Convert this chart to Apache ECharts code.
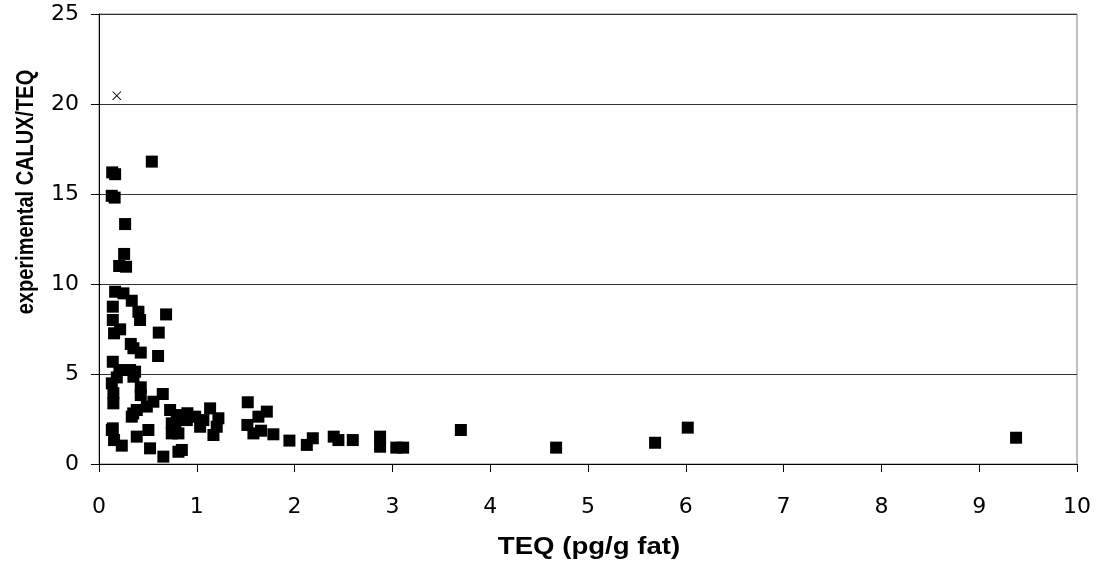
<!DOCTYPE html>
<html>
<head>
<meta charset="utf-8">
<script src="https://cdn.jsdelivr.net/npm/echarts@6/dist/echarts.min.js"></script>
<style>
html,body{margin:0;padding:0;background:#fff;}
#c{width:1103px;height:572px;}
</style>
</head>
<body>
<div id="c"></div>
<script>
// TEQ (pg/g fat) values of the samples
const teq = [
  0.54, 0.135, 0.165, 0.13, 0.16, 0.267, 0.257, 0.206, 0.277,
  0.165, 0.25, 0.335, 0.141, 0.403, 0.686, 0.42, 0.141, 0.216, 0.154, 0.611,
  0.325, 0.352, 0.427, 0.604, 0.141, 0.209, 0.318, 0.369, 0.352, 0.182,
  0.131, 0.147, 0.147, 0.427, 0.427, 0.652, 0.556, 0.489, 0.386, 0.335,
  0.727, 0.795, 0.904, 0.983, 1.136, 1.221, 1.521, 1.716, 1.63, 1.517,
  1.579, 1.657, 1.783, 1.947, 0.131, 0.154, 0.233, 0.386, 0.505, 0.522,
  0.658, 0.812, 0.744, 0.812, 1.034, 1.17, 1.204, 0.898, 1.067, 0.847,
  0.78, 0.744, 0.35, 0.141,
  2.125, 2.186, 2.40, 2.448, 2.595, 2.874, 2.874, 3.04, 3.11, 3.70,
  4.674, 5.686, 6.02, 9.377
];
// experimental CALUX/TEQ ratio of the samples
const ratio = [
  16.8, 16.2, 16.1, 14.9, 14.8, 13.33, 11.67, 11.0, 10.96,
  9.57, 9.48, 9.07, 8.74, 8.46, 8.31, 8.0, 8.0, 7.48, 7.26, 7.3,
  6.67, 6.43, 6.19, 6.0, 5.68, 5.22, 5.22, 5.13, 4.85, 4.81,
  4.48, 3.93, 3.37, 4.26, 3.83, 3.89, 3.46, 3.19, 3.0, 2.63,
  3.0, 2.72, 2.82, 2.63, 3.09, 2.54, 3.43, 2.91, 2.63, 2.17,
  1.70, 1.85, 1.65, 1.30, 1.89, 1.33, 1.02, 1.52, 1.89, 0.87,
  0.41, 0.68, 2.26, 1.70, 2.07, 1.61, 2.07, 2.44, 2.44, 0.78,
  2.07, 1.70, 2.81, 1.98,
  1.06, 1.43, 1.52, 1.33, 1.33, 1.52, 0.96, 0.91, 0.91, 1.89,
  0.91, 1.18, 2.02, 1.46
];
// outlier sample (cross marker)
const outlierTeq = [0.182];
const outlierRatio = [20.46];

const xTicks = [0, 10, 1];
const yTicks = [0, 25, 5];

const xTitle = 'TEQ (pg/g fat)';
const yTitle = 'experimental CALUX/TEQ';

const squares = teq.map((v, i) => [v, ratio[i]]);
const crosses = outlierTeq.map((v, i) => [v, outlierRatio[i]]);

const chart = echarts.init(document.getElementById('c'), null, {renderer: 'canvas'});
const tickFont = {fontFamily: 'DejaVu Sans', fontSize: 22, color: '#000'};

chart.setOption({
  animation: false,
  backgroundColor: '#fff',
  grid: {
    left: 99, right: 26, top: 14, bottom: 108,
    show: true, borderColor: '#808080', borderWidth: 1, backgroundColor: 'transparent'
  },
  xAxis: {
    type: 'value', min: xTicks[0], max: xTicks[1], interval: xTicks[2],
    axisLine: {show: true, onZero: false, lineStyle: {color: '#000', width: 1}},
    axisTick: {show: true, inside: false, length: 8, lineStyle: {color: '#000'}},
    axisLabel: Object.assign({margin: 32}, tickFont),
    splitLine: {show: false}
  },
  yAxis: {
    type: 'value', min: yTicks[0], max: yTicks[1], interval: yTicks[2],
    axisLine: {show: true, onZero: false, lineStyle: {color: '#000', width: 1}},
    axisTick: {show: true, inside: false, length: 8, lineStyle: {color: '#000'}},
    axisLabel: Object.assign({margin: 20}, tickFont),
    splitLine: {show: true, lineStyle: {color: '#333', width: 1}}
  },
  graphic: [
    {
      type: 'text', x: 589, y: 548, scaleX: 1.2, z: 10,
      style: {text: xTitle, font: 'bold 23px "Liberation Sans", Arial, sans-serif',
              fill: '#000', textAlign: 'center', textVerticalAlign: 'middle'}
    },
    {
      type: 'text', x: 26, y: 192, rotation: Math.PI / 2, scaleY: 1.18, z: 10,
      style: {text: yTitle, font: 'bold 20px "Liberation Sans", Arial, sans-serif',
              fill: '#000', textAlign: 'center', textVerticalAlign: 'middle'}
    }
  ],
  series: [
    {
      type: 'scatter', data: squares, symbol: 'rect', symbolSize: 12,
      itemStyle: {color: '#000', opacity: 1}
    },
    {
      type: 'scatter', data: crosses,
      symbol: 'path://M0,0.7L0.7,0L10,9.3L9.3,10Z M9.3,0L10,0.7L0.7,10L0,9.3Z',
      symbolSize: 9, itemStyle: {color: '#000', opacity: 1}
    }
  ]
});
</script>
</body>
</html>
